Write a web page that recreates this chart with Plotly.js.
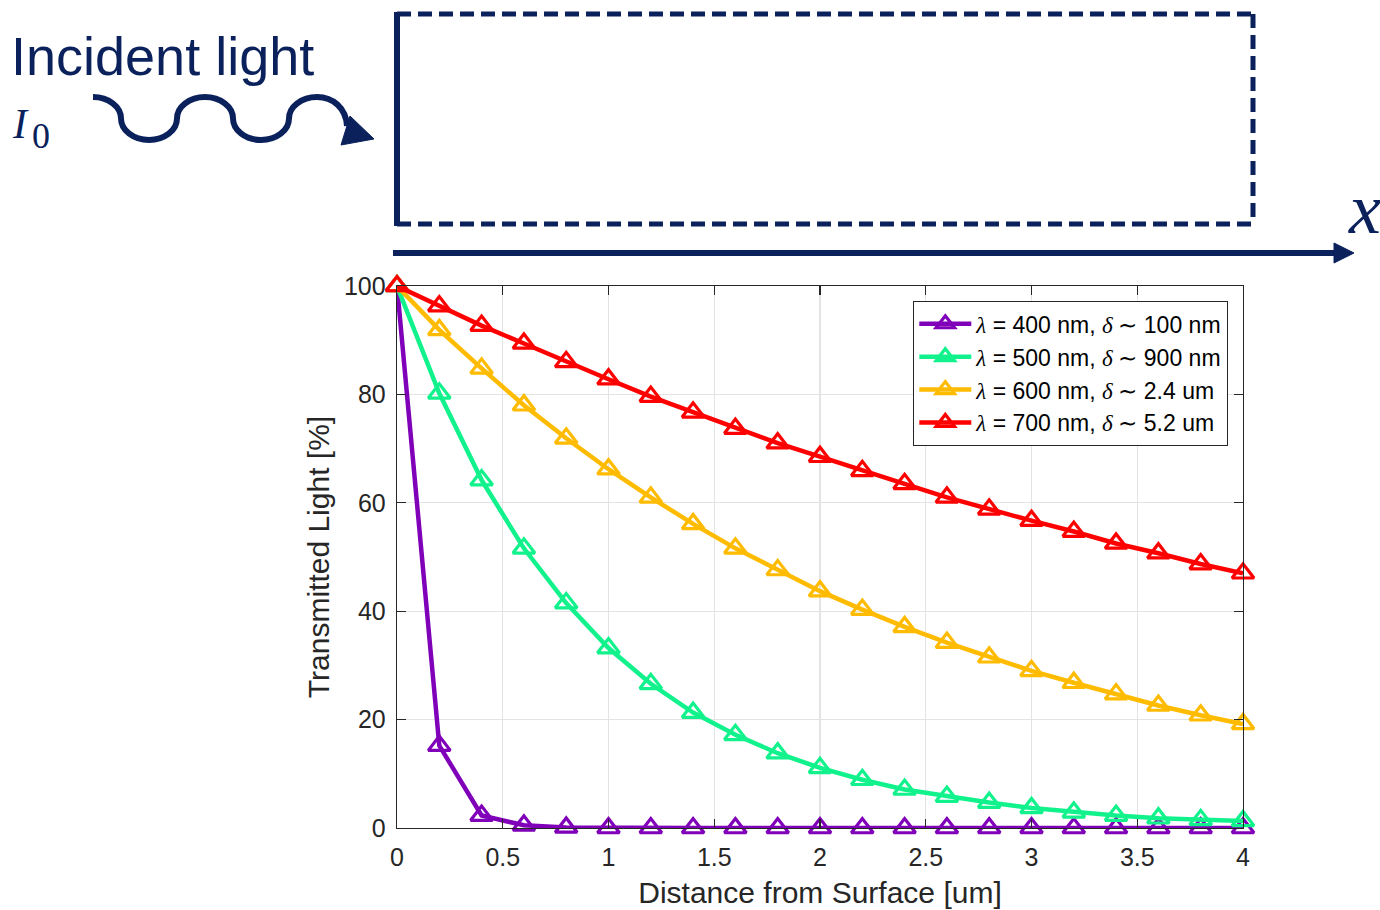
<!DOCTYPE html>
<html>
<head>
<meta charset="utf-8">
<script src="https://cdn.plot.ly/plotly-3.0.1.min.js"></script>
<style>html,body{margin:0;padding:0;background:#fff;}#chart{width:1380px;height:910px;}</style>
</head>
<body>
<div id="chart"></div>
<script>
// ---- data ----
const distance = [0, 0.2, 0.4, 0.6, 0.8, 1.0, 1.2, 1.4, 1.6, 1.8, 2.0, 2.2, 2.4, 2.6, 2.8, 3.0, 3.2, 3.4, 3.6, 3.8, 4.0];
const t400 = [100, 15.2, 2.3, 0.5, 0.1, 0, 0, 0, 0, 0, 0, 0, 0, 0, 0, 0, 0, 0, 0, 0, 0];
const t500 = [100, 80.2, 64.2, 51.6, 41.5, 33.2, 26.6, 21.3, 17.2, 13.8, 11.1, 8.9, 7.1, 5.8, 4.7, 3.7, 2.9, 2.3, 1.8, 1.5, 1.3];
const t600 = [100, 91.9, 84.8, 78.0, 71.9, 66.2, 61.0, 56.1, 51.6, 47.6, 43.7, 40.3, 37.1, 34.2, 31.5, 29.0, 26.8, 24.7, 22.6, 20.8, 19.2];
const t700 = [100, 96.3, 92.7, 89.4, 86.0, 82.8, 79.6, 76.7, 73.7, 71.0, 68.5, 65.9, 63.5, 61.0, 58.8, 56.7, 54.7, 52.5, 50.7, 48.7, 47.0];
const seriesNames = [
  ['400 nm', '100 nm'],
  ['500 nm', '900 nm'],
  ['600 nm', '2.4 um'],
  ['700 nm', '5.2 um']
];
const seriesValues = [t400, t500, t600, t700];
const seriesColors = ['#7F00B8', '#12F28C', '#FFBB00', '#FF0000'];
const xTickVals = [0, 0.5, 1, 1.5, 2, 2.5, 3, 3.5, 4];
const xTickText = ['0', '0.5', '1', '1.5', '2', '2.5', '3', '3.5', '4'];
const yTickVals = [0, 20, 40, 60, 80, 100];
const yTickText = ['0', '20', '40', '60', '80', '100'];

// ---- figure geometry (pixels) ----
const W = 1380, H = 910;
const L = 397, R = 1243, T = 286, B = 828;
const px = x => (x - L) / (R - L);
const py = y => (B - y) / (B - T);
const P = (x, y) => px(x).toFixed(5) + ',' + py(y).toFixed(5);

const navy = '#0A215C';
const serif = "'Liberation Serif'";

function legendLabel(n) {
  return '<span style="font-family:' + serif + '"><i>λ</i></span> = ' + seriesNames[n][0] +
         ', <span style="font-family:' + serif + '"><i>δ</i> ∼</span> ' + seriesNames[n][1];
}

const traces = seriesValues.map((vals, i) => ({
  x: distance,
  y: vals,
  type: 'scatter',
  mode: 'lines+markers',
  name: legendLabel(i),
  cliponaxis: false,
  line: {color: seriesColors[i], width: 4.5},
  marker: {symbol: 'triangle-up-open', size: 19, color: seriesColors[i], line: {width: 3.2, color: seriesColors[i]}}
}));

// wavy arrow path
const yc = 97, yt = 140, ym = (yc + yt) / 2, A = (yt - yc) / 2, q = 28, k = 0.552;
function halfWave(x0, yFrom, yTo) {
  const s = yTo > yFrom ? 1 : -1;
  return ' C ' + P(x0 + k * q, yFrom) + ' ' + P(x0 + q, ym - s * k * A) + ' ' + P(x0 + q, ym) +
         ' C ' + P(x0 + q, ym + s * k * A) + ' ' + P(x0 + 2 * q - k * q, yTo) + ' ' + P(x0 + 2 * q, yTo);
}
let wave = 'M ' + P(93, yc);
wave += halfWave(93, yc, yt);
wave += halfWave(149, yt, yc);
wave += halfWave(205, yc, yt);
wave += halfWave(261, yt, yc);
wave += ' C ' + P(333, yc) + ' ' + P(346, 108) + ' ' + P(347, 126);

const shapes = [
  {type: 'path', xref: 'paper', yref: 'paper', path: wave, line: {color: navy, width: 6}},
  {type: 'path', xref: 'paper', yref: 'paper', path: 'M ' + P(341, 145) + ' L ' + P(374, 139) + ' L ' + P(350, 116) + ' Z',
   fillcolor: navy, line: {color: navy, width: 1}},
  {type: 'line', xref: 'paper', yref: 'paper', x0: px(397), x1: px(397), y0: py(12), y1: py(226), line: {color: navy, width: 6}},
  {type: 'line', xref: 'paper', yref: 'paper', x0: px(397), x1: px(1253), y0: py(14), y1: py(14), line: {color: navy, width: 5, dash: '14px,7px'}},
  {type: 'line', xref: 'paper', yref: 'paper', x0: px(1253), x1: px(1253), y0: py(14), y1: py(224), line: {color: navy, width: 5, dash: '14px,7px'}},
  {type: 'line', xref: 'paper', yref: 'paper', x0: px(397), x1: px(1253), y0: py(224), y1: py(224), line: {color: navy, width: 5, dash: '14px,7px'}},
  {type: 'line', xref: 'paper', yref: 'paper', x0: px(393), x1: px(1338), y0: py(253), y1: py(253), line: {color: navy, width: 6}},
  {type: 'path', xref: 'paper', yref: 'paper', path: 'M ' + P(1334, 243) + ' L ' + P(1354, 253) + ' L ' + P(1334, 263) + ' Z',
   fillcolor: navy, line: {color: navy, width: 1}}
];

const annotations = [
  {text: 'Incident light', xref: 'paper', yref: 'paper', x: px(9), y: py(56), xanchor: 'left', yanchor: 'middle',
   showarrow: false, font: {family: 'Liberation Sans', size: 54, color: navy}},
  {text: '<i>I</i>', xref: 'paper', yref: 'paper', x: px(10), y: py(124), xanchor: 'left', yanchor: 'middle',
   showarrow: false, font: {family: 'Liberation Serif', size: 42, color: navy}},
  {text: '0', xref: 'paper', yref: 'paper', x: px(30), y: py(136), xanchor: 'left', yanchor: 'middle',
   showarrow: false, font: {family: 'Liberation Serif', size: 36, color: navy}},
  {text: '<i>x</i>', xref: 'paper', yref: 'paper', x: px(1346), y: py(209), xanchor: 'left', yanchor: 'middle',
   showarrow: false, font: {family: 'Liberation Serif', size: 72, color: navy}}
];

const axisCommon = {
  showline: true, linecolor: '#262626', linewidth: 1.3, mirror: 'ticks',
  ticks: 'inside', ticklen: 9, tickwidth: 1.3, tickcolor: '#262626',
  showgrid: true, gridcolor: '#E3E3E3', gridwidth: 1.3, zeroline: false,
  tickfont: {family: 'Liberation Sans', size: 25, color: '#262626'}
};

const layout = {
  width: W, height: H,
  margin: {l: L, r: W - R, t: T, b: H - B, pad: 0},
  paper_bgcolor: '#FFFFFF', plot_bgcolor: '#FFFFFF',
  showlegend: true,
  xaxis: Object.assign({}, axisCommon, {
    range: [0, 4], tickvals: xTickVals, ticktext: xTickText,
    ticklabelstandoff: 7, automargin: false,
    title: {text: 'Distance from Surface [um]', standoff: 11, font: {family: 'Liberation Sans', size: 30, color: '#262626'}}
  }),
  yaxis: Object.assign({}, axisCommon, {
    range: [0, 100], tickvals: yTickVals, ticktext: yTickText,
    ticklabelstandoff: 5, automargin: false,
    title: {text: 'Transmitted Light [%]', standoff: 5, font: {family: 'Liberation Sans', size: 30, color: '#262626'}}
  }),
  legend: {
    x: px(1228), y: py(301), xanchor: 'right', yanchor: 'top',
    bgcolor: '#FFFFFF', bordercolor: '#262626', borderwidth: 1.3,
    font: {family: 'Liberation Sans', size: 23, color: '#000000'},
    itemwidth: 52, tracegroupgap: 0
  },
  shapes: shapes,
  annotations: annotations
};

Plotly.newPlot('chart', traces, layout, {displayModeBar: false, staticPlot: true});
</script>
</body>
</html>
